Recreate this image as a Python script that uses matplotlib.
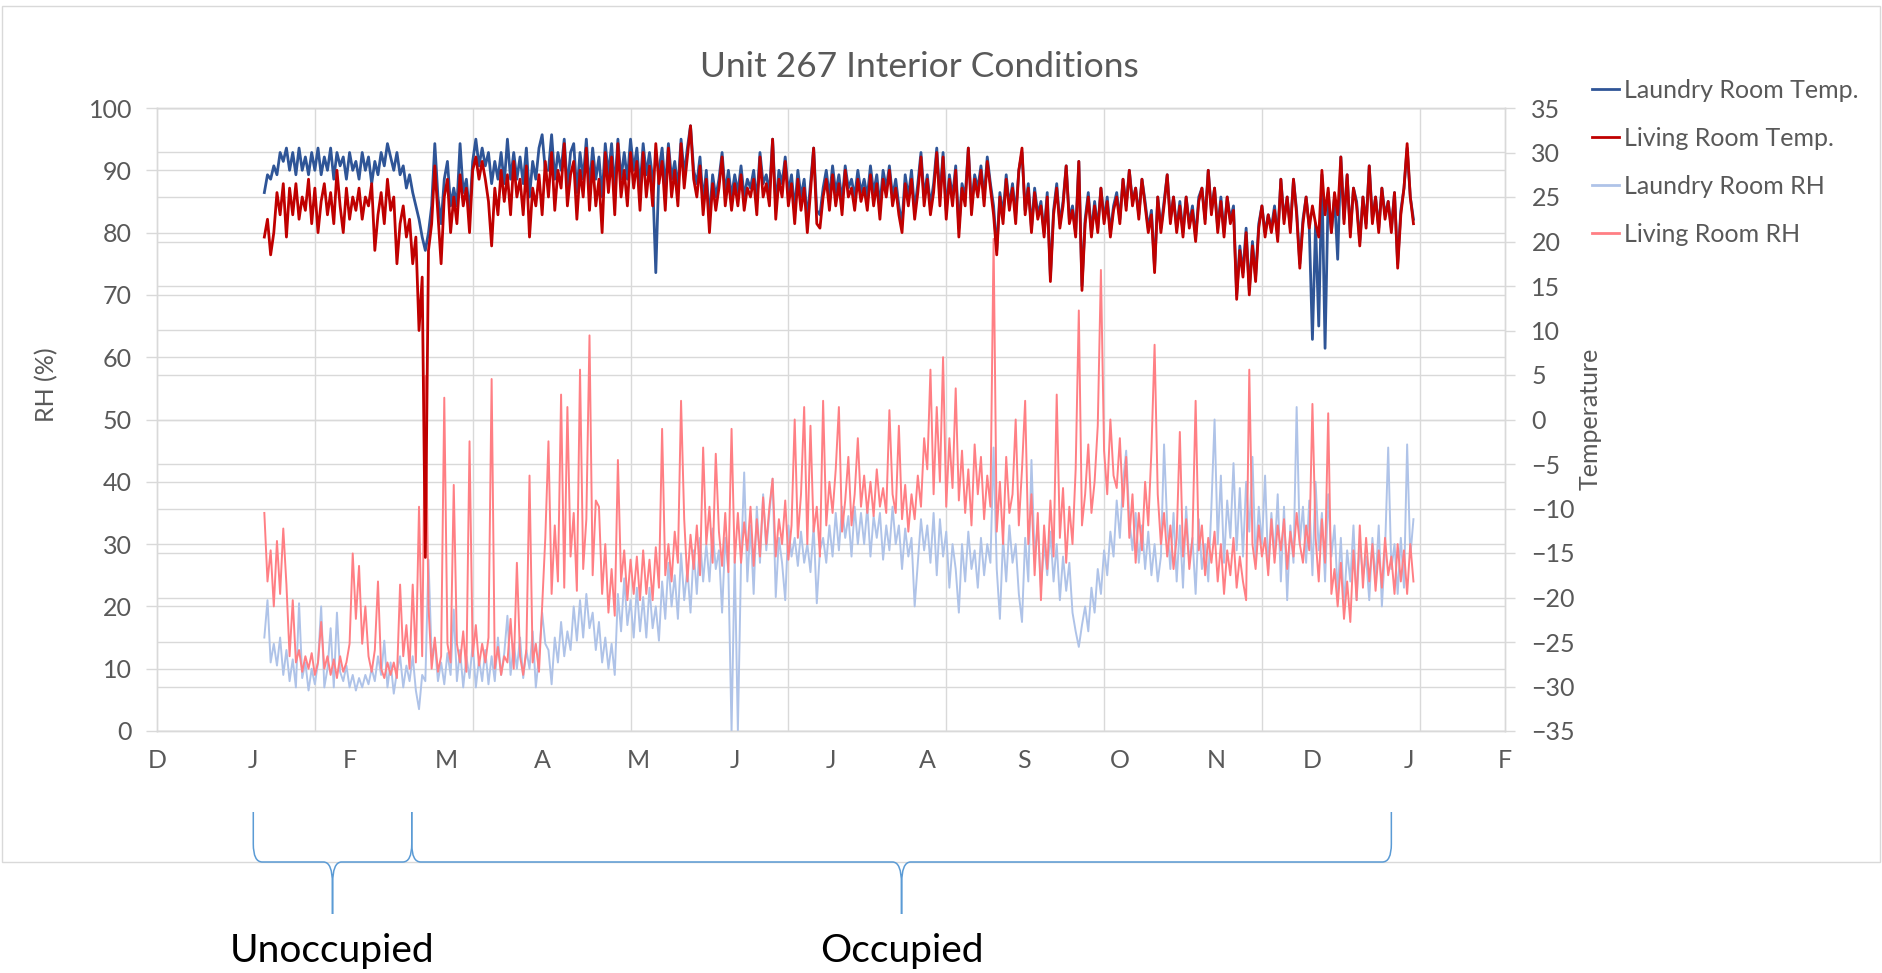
import numpy as np
import matplotlib.pyplot as plt
from matplotlib.path import Path
from matplotlib.patches import PathPatch, Rectangle

plt.rcParams['font.family'] = ['Lato', 'DejaVu Sans']

# x is in days, day 0 = left edge of the axis (early Dec); one reading per day
day_first = 34
month_labels = ["D", "J", "F", "M", "A", "M", "J", "J", "A", "S", "O", "N", "D", "J", "F"]
month_step = 30.5

# temperatures (deg C), right axis
laundry_temp = [
    25.5, 27.5, 27, 28.5, 27.5, 30, 29, 30.5, 28, 30,          # day 34
    27.5, 30.5, 28, 29.5, 27.5, 30, 28, 30.5, 27.5, 29.5,      # 44
    28, 30.5, 27, 30, 28.5, 29.5, 27, 30, 28, 29,              # 54
    27, 30, 28, 29.5, 26.5, 29, 27.5, 30, 28.5, 31,            # 64
    29.5, 28, 30, 27.5, 28.5, 26, 27.5, 25.5, 24, 22.5,        # 74
    20.5, 19, 21, 24, 31, 25, 22, 27, 29, 24,                  # 84
    26, 24, 31, 25.5, 27, 23, 29, 31.5, 28.5, 30.5,            # 94
    28.5, 30, 26.5, 29, 27, 30, 26.5, 31.5, 27, 30,            # 104
    27, 29.5, 26.5, 30.5, 25, 29, 27, 30.5, 32, 28,            # 114
    28, 32, 27, 30, 28, 31.5, 26, 30, 31, 25.5,                # 124
    30, 27, 31.5, 26, 30.5, 27, 29.5, 25, 31, 27.5,            # 134
    31, 26, 31.5, 27, 30, 27, 31.5, 28, 30.5, 26,              # 144
    31, 27.5, 30, 27, 16.5, 28, 30.5, 26, 31, 27,              # 154
    29, 26, 31.5, 27.5, 30.5, 33, 28, 26.5, 29.5, 24.5,        # 164
    28, 22.5, 27.5, 25, 27, 30, 25.5, 28, 25, 27.5,            # 174
    25.5, 28.5, 25, 27, 26, 28, 24.5, 30, 26.5, 27.5,          # 184
    25.5, 31.5, 24, 28, 26.5, 29.5, 25.5, 27.5, 23.5, 28,      # 194
    25, 27, 22.5, 26.5, 30.5, 23.5, 23, 26, 28, 25,            # 204
    28.5, 25.5, 27.5, 24.5, 28.5, 26, 27, 25, 28, 25.5,        # 214
    27, 25, 28.5, 25.5, 27.5, 24, 28, 26, 28.5, 25,            # 224
    27, 24, 22, 27.5, 25, 28, 23.5, 26.5, 30, 25,              # 234
    27.5, 24, 26.5, 30.5, 25, 30, 23.5, 27.5, 25, 28.5,        # 244
    21.5, 26.5, 25, 30.5, 24, 27.5, 26, 28.5, 25, 29.5,        # 254
    26.5, 24, 19, 25.5, 23, 27.5, 24, 26.5, 23, 28,            # 264
    30, 23.5, 26.5, 21.5, 26, 23, 24.5, 21, 25.5, 16,          # 274
    23.5, 26.5, 22, 24.5, 28.5, 22.5, 24, 21, 29, 15,          # 284
    22.5, 25.5, 21, 24.5, 21.5, 26, 22.5, 25, 21, 24,          # 294
    25.5, 22.5, 27, 24, 28, 24.5, 26, 23, 27, 24.5,            # 304
    21.5, 23.5, 17, 25, 21.5, 24.5, 27.5, 22.5, 25, 21.5,      # 314
    24.5, 21, 25, 22, 24, 20.5, 25, 26, 22.5, 28,              # 324
    23.5, 26, 21.5, 25, 21, 25, 22.5, 24, 14, 19.5,            # 334
    16.5, 21.5, 14.5, 20, 16, 22, 24, 21, 23, 21.5,            # 344
    24, 20.5, 27, 22.5, 25, 21.5, 27, 23.5, 17.5, 22.5,        # 354
    25, 21.5, 9, 22, 10.5, 27.5, 8, 25.5, 21, 25,              # 364
    18, 29.5, 22.5, 27.5, 21, 26, 24.5, 20, 25, 22,            # 374
    28.5, 22.5, 25, 21.5, 26, 23, 24.5, 21.5, 25.5, 17.5,      # 384
    23.5, 26, 30.5, 25, 22.5,                                  # 394
]

living_temp = [
    20.5, 22.5, 18.5, 21, 25.5, 23, 26.5, 20.5, 26, 23,        # day 34
    26.5, 22.5, 25, 23.5, 27, 22, 26, 21, 24.5, 26.5,          # 44
    23, 25.5, 22, 28, 24, 21, 26, 22.5, 25, 23.5,              # 54
    26, 22.5, 25, 24, 26.5, 19, 23, 25.5, 22, 27,              # 64
    23.5, 25, 17.5, 22, 24, 20.5, 22.5, 17.5, 20.5, 10,        # 74
    16, -15.5, 19, 22, 28.5, 23, 17.5, 25, 27, 21,             # 84
    25, 22, 27.5, 24, 26, 21, 28, 29.5, 27, 29,                # 94
    27, 24.5, 19.5, 26, 23, 28, 24.5, 27.5, 23, 29,            # 104
    25, 27, 23, 28.5, 20.5, 26, 24, 27.5, 23, 29,              # 114
    25, 30, 23.5, 28, 26, 31, 24, 27.5, 29, 22.5,              # 124
    28, 25, 30.5, 23.5, 29, 24, 27, 21, 30, 25.5,              # 134
    29.5, 23, 31, 25, 28, 24, 30, 26, 29, 23.5,                # 144
    30, 25, 28.5, 24, 31, 26.5, 29, 23.5, 30.5, 25,            # 154
    28, 24, 31, 26, 29.5, 33, 27, 25, 28.5, 23,                # 164
    27, 21, 26.5, 23.5, 26, 29.5, 24, 27, 23.5, 26.5,          # 174
    24, 27.5, 23.5, 26, 25, 27, 23, 29.5, 25, 26.5,            # 184
    24, 31.5, 22.5, 27, 25, 29, 24, 26.5, 22, 27,              # 194
    23.5, 26, 21, 25.5, 30.5, 22, 21.5, 25, 27, 23.5,          # 204
    27.5, 24, 26.5, 23, 28, 25, 26, 23.5, 27, 24.5,            # 214
    26, 23.5, 27.5, 24, 26.5, 22.5, 27, 25, 28, 24,            # 224
    26, 23, 21, 26.5, 24, 27, 22.5, 25.5, 29.5, 24,            # 234
    27, 23, 25.5, 30, 24, 29.5, 22.5, 27, 24, 28,              # 244
    20.5, 26, 24, 30.5, 23, 27, 25, 28, 24, 29,                # 254
    26, 23, 18.5, 25, 22, 27, 23.5, 26, 22, 28,                # 264
    30.5, 23, 26, 21, 25.5, 22.5, 24, 20.5, 25, 15.5,          # 274
    23, 26, 21.5, 24, 28.5, 22, 23.5, 20.5, 29, 14.5,          # 284
    22, 25, 20.5, 24, 21, 26, 22, 24.5, 20.5, 23.5,            # 294
    25, 22, 27, 23.5, 28, 24, 26, 22.5, 27, 24,                # 304
    21, 23, 16.5, 25, 21, 24, 27.5, 22, 25, 21,                # 314
    24, 20.5, 25, 21.5, 23.5, 20, 24.5, 26, 22, 28,            # 324
    23, 26, 21, 24.5, 20.5, 25, 22, 23.5, 13.5, 19,            # 334
    16, 21, 14, 19.5, 15.5, 21.5, 24, 20.5, 23, 21,            # 344
    23.5, 20, 27, 22, 25, 21, 27, 23, 17, 22,                  # 354
    25, 21.5, 24, 22, 20.5, 28, 23, 26, 21, 25.5,              # 364
    23, 29.5, 22, 27.5, 20.5, 26, 24, 19.5, 25, 21.5,          # 374
    28.5, 22, 25, 21, 26, 22.5, 24.5, 21, 25.5, 17,            # 384
    23, 26, 31, 25, 22,                                        # 394
]

# relative humidity (%), left axis
laundry_rh = [
    15, 21, 11, 14, 10.5, 15, 9, 13, 8, 11.5,                  # day 34
    7, 20.5, 8.5, 11, 6.5, 10, 7.5, 11, 20, 7,                 # 44
    10, 16.5, 7, 19, 9.5, 8, 10.5, 7, 9, 6.5,                  # 54
    8.5, 7, 9, 7.5, 10, 8, 12, 9, 14.5, 7,                     # 64
    11, 6, 9.5, 12, 7, 10.5, 8, 12, 6.5, 3.5,                  # 74
    9, 8, 27.5, 12, 14, 8, 11, 7.5, 12.5, 9,                   # 84
    19.5, 8, 13, 7, 12, 8.5, 14, 7, 11.5, 8,                   # 94
    13, 7.5, 12, 8, 15, 9, 12.5, 18.5, 9, 14,                  # 104
    10, 15, 8.5, 13, 10, 16, 7, 12, 19, 14,                    # 114
    13, 7.5, 15, 11, 17.5, 12, 16, 13, 20, 14.5,               # 124
    21, 15, 22, 16.5, 19, 13, 17.5, 11, 15, 10,                # 134
    14, 9, 22, 16, 24.5, 17, 21, 15, 23, 16,                   # 144
    21.5, 15, 23, 16.5, 20, 14.5, 24, 18, 27, 20,              # 154
    25, 18, 28.5, 21, 26, 19, 29, 22, 31, 24,                  # 164
    30, 24, 32.5, 26, 29, 19, 31, 25.5, 0, 28,                 # 174
    0, 27, 41.5, 24, 33, 22, 36, 27, 38, 29,                   # 184
    35, 40.5, 21.5, 31, 27, 21, 33, 28, 31, 26.5,              # 194
    32, 27, 30, 25.5, 33, 20.5, 29, 31, 27, 33,                # 204
    28, 35, 29, 36, 31, 34.5, 28, 36, 30, 35,                  # 214
    30, 36, 28, 34.5, 31, 35, 27.5, 33, 29, 36,                # 224
    30, 33, 26, 32.5, 28, 31, 20, 27, 34, 29,                  # 234
    33, 27, 35, 25, 34, 28, 32, 23, 30, 26,                    # 244
    19, 30, 24, 32, 26, 29, 23, 31, 25, 30,                    # 254
    27, 45.5, 26, 18, 31, 24, 33, 27, 30, 22,                  # 264
    17.5, 31, 24, 43.5, 28, 33, 23, 30, 25, 32,                # 274
    24, 30, 21, 28, 22.5, 27, 19, 16, 13.5, 17,                # 284
    20, 16, 23, 19, 26, 22, 29, 25, 32, 28,                    # 294
    37, 31, 40, 45, 34, 29, 35, 27, 33, 26,                    # 304
    32, 25, 30, 24, 28, 46, 33, 26, 35, 24,                    # 314
    33, 23, 36, 27, 31, 22, 34, 26, 30, 24,                    # 324
    36, 50, 30, 41, 27, 37, 31, 43, 29, 39,                    # 334
    28, 40, 32, 44, 27, 36, 30, 41, 26, 35,                    # 344
    28, 38, 24, 36, 21, 33, 27, 52, 30, 36,                    # 354
    27, 37, 25, 40, 29, 35, 24, 38, 28, 33,                    # 364
    22, 31, 20, 29, 24, 33, 21, 30, 25, 28,                    # 374
    21, 31, 24, 33, 20, 29, 45.5, 26, 30, 22,                  # 384
    31, 23, 46, 28, 34,                                        # 394
]

living_rh = [
    35, 24, 29, 20, 30.5, 22, 32.5, 23.5, 12, 21,              # day 34
    11, 13, 9.5, 12, 10, 12.5, 9, 11, 17.5, 10,                # 44
    12, 9, 11.5, 8.5, 12, 9.5, 11, 14, 28.5, 18,               # 54
    26.5, 14, 20, 12, 9.5, 13, 24, 10, 8.5, 11,                # 64
    9, 11, 8.5, 23.5, 12, 17, 10, 23.5, 11, 36,                # 74
    12, 57, 20, 10, 15, 9.5, 12, 53.5, 14, 11,                 # 84
    39.5, 14, 11, 16, 9.5, 46.5, 12, 17, 10.5, 14,             # 94
    11, 15, 56.5, 10, 13.5, 9, 12, 11, 18, 10,                 # 104
    27, 12, 9, 13, 41, 11, 14, 9.5, 20, 31,                    # 114
    46.5, 22, 33, 24, 54, 23, 52, 28, 35, 22.5,                # 124
    58, 26, 34, 63.5, 25, 37, 36, 22, 30, 19,                  # 134
    26, 18.5, 43.5, 24, 29, 21, 27.5, 22, 28, 21,              # 144
    29, 22, 27.5, 21, 29.5, 23, 48.5, 25, 30, 24,              # 154
    32, 27, 53, 34, 24, 31.5, 26, 33, 25, 45.5,                # 164
    30, 36, 27, 44.5, 32, 26.5, 35, 25.5, 48.5, 27,            # 174
    35, 27, 33.5, 29, 36, 26.5, 34, 28, 37.5, 30,              # 184
    36, 40.5, 28, 34, 30, 37, 27.5, 33, 50, 31,                # 194
    38, 52, 30, 49, 32, 36, 28, 53, 33, 40,                    # 204
    35, 42, 52, 32, 37, 44, 33, 38, 47, 36,                    # 214
    41, 35, 40, 34.5, 42, 36, 39, 35, 51.5, 38,                # 224
    35, 49, 34, 39.5, 32, 38, 34, 41, 36, 47,                  # 234
    42, 58, 38, 52, 40, 60, 36, 47, 39, 55,                    # 244
    37, 45, 35, 42, 33, 46, 38, 44, 34, 41,                    # 254
    36, 79, 32, 40, 30, 44, 35, 38, 50, 33,                    # 264
    42, 53, 30, 38, 25, 35, 21, 33, 26, 37,                    # 274
    28, 54, 31, 39, 27, 36, 30, 42, 67.5, 33,                  # 284
    38, 46, 35, 40, 49, 74, 45, 38, 50, 41,                    # 294
    39, 47, 36, 44, 31, 38, 27, 35, 29, 40,                    # 304
    33, 45, 62, 38, 30, 35, 28, 33, 26, 31,                    # 314
    48, 28, 34, 26, 31, 53, 29, 33, 25, 31,                    # 324
    27, 32, 24, 30, 22, 29, 25, 31, 23, 28,                    # 334
    24, 21, 58, 30, 26, 33, 28, 31, 25, 34,                    # 344
    27, 33, 29, 34, 26, 32, 28, 35, 30, 27,                    # 354
    33, 29, 52.5, 31, 24, 34, 27, 51, 22, 26,                  # 364
    20, 27, 18, 24, 17.5, 29, 21, 33, 23, 31,                  # 374
    24, 30, 22.5, 29, 23, 31, 25, 28, 22, 30,                  # 384
    24, 29, 22, 30, 24,                                        # 394
]

# occupancy periods (start day, end day) for the braces under the chart
periods = [("Unoccupied", 30.5, 80.7), ("Occupied", 80.7, 391.0)]

c_laundry_temp = "#2F5597"
c_living_temp = "#C00000"
c_laundry_rh = "#AFC3E8"
c_living_rh = "#FF7F84"
grid_c = "#D9D9D9"
txt_c = "#595959"
brace_c = "#5B9BD5"
fs = 18

W, H = 1883, 973
fig = plt.figure(figsize=(W / 100, H / 100), dpi=100)
ax = fig.add_axes([157 / W, 1 - 731 / H, 1348 / W, 623 / H])
ax2 = ax.twinx()

days = np.arange(day_first, day_first + len(living_temp))

ax.set_xlim(0, month_step * (len(month_labels) - 1))
ax.set_ylim(0, 100)
ax2.set_ylim(-35, 35)

# gridlines: both axes' horizontal ticks plus vertical every 50 days, all under the data
rh_ticks = np.arange(0, 101, 10)
temp_ticks = np.arange(-35, 36, 5)
for v in rh_ticks:
    ax.axhline(v, color=grid_c, lw=1, zorder=0)
for t in temp_ticks:
    ax.axhline((t + 35) / 70 * 100, color=grid_c, lw=1, zorder=0)
for d in range(50, 427, 50):
    ax.axvline(d, color=grid_c, lw=1, zorder=0)

l_rh1, = ax.plot(days, laundry_rh, color=c_laundry_rh, lw=1.4, zorder=3)
l_rh2, = ax.plot(days, living_rh, color=c_living_rh, lw=1.4, zorder=4)
l_t1, = ax2.plot(days, laundry_temp, color=c_laundry_temp, lw=2.0, zorder=3)
l_t2, = ax2.plot(days, living_temp, color=c_living_temp, lw=2.0, zorder=4)

ax.set_xticks(np.arange(len(month_labels)) * month_step)
ax.set_xticklabels(month_labels)
ax.set_yticks(rh_ticks)
ax2.set_yticks(temp_ticks)
ax.tick_params(axis='x', length=0, pad=13, labelsize=fs, labelcolor=txt_c)
ax.tick_params(axis='y', length=8, width=1, color=grid_c, pad=10, labelsize=fs, labelcolor=txt_c)
ax2.tick_params(axis='y', length=7, width=1, color=grid_c, pad=12, labelsize=fs, labelcolor=txt_c)
for a in (ax, ax2):
    for s in a.spines.values():
        s.set_color(grid_c)
        s.set_linewidth(1)

fig.text(47 / W, 1 - 385 / H, "RH (%)", rotation=90, ha='center', va='center', fontsize=fs, color=txt_c)
fig.text(1590 / W, 1 - 419 / H, "Temperature", rotation=90, ha='center', va='center', fontsize=fs, color=txt_c)
fig.text(919 / W, 1 - 77 / H, "Unit 267 Interior Conditions", ha='center', va='baseline', fontsize=25.5, color=txt_c)

leg = fig.legend([l_t1, l_t2, l_rh1, l_rh2],
                 ["Laundry Room Temp.", "Living Room Temp.", "Laundry Room RH", "Living Room RH"],
                 loc='upper left', bbox_to_anchor=(1592 / W, 1 - 79 / H), frameon=False, fontsize=fs,
                 handlelength=1.1, handletextpad=0.2, labelspacing=1.0, borderpad=0, borderaxespad=0)
for t in leg.get_texts():
    t.set_color(txt_c)
for h in leg.legend_handles:
    h.set_linewidth(2)

# overlay in pixel coordinates for the chart border and the braces
ov = fig.add_axes([0, 0, 1, 1], zorder=10)
ov.set_xlim(0, W)
ov.set_ylim(H, 0)
ov.axis('off')
ov.add_patch(Rectangle((2, 6), 1878, 856, fill=False, ec=grid_c, lw=1))


def brace(x0, x1, y_top=812, y_mid=862, y_tip=914, r=9):
    xm = (x0 + x1) / 2
    verts, codes = [], []
    for xe, s in ((x0, 1), (x1, -1)):
        verts += [(xe, y_top), (xe, y_mid - 2 * r), (xe, y_mid), (xe + s * r, y_mid),
                  (xm - s * r, y_mid), (xm, y_mid), (xm, y_mid + 2.5 * r), (xm, y_tip)]
        codes += [Path.MOVETO, Path.LINETO, Path.CURVE3, Path.CURVE3,
                  Path.LINETO, Path.CURVE3, Path.CURVE3, Path.LINETO]
    ov.add_patch(PathPatch(Path(verts, codes), fill=False, ec=brace_c, lw=1.1))
    return xm


for label, d0, d1 in periods:
    x0 = ax.transData.transform((d0, 0))[0]
    x1 = ax.transData.transform((d1, 0))[0]
    xm = brace(x0, x1)
    ov.text(xm, 962, label, ha='center', va='baseline', fontsize=28, color='black')

fig.savefig("out.png", dpi=100)
